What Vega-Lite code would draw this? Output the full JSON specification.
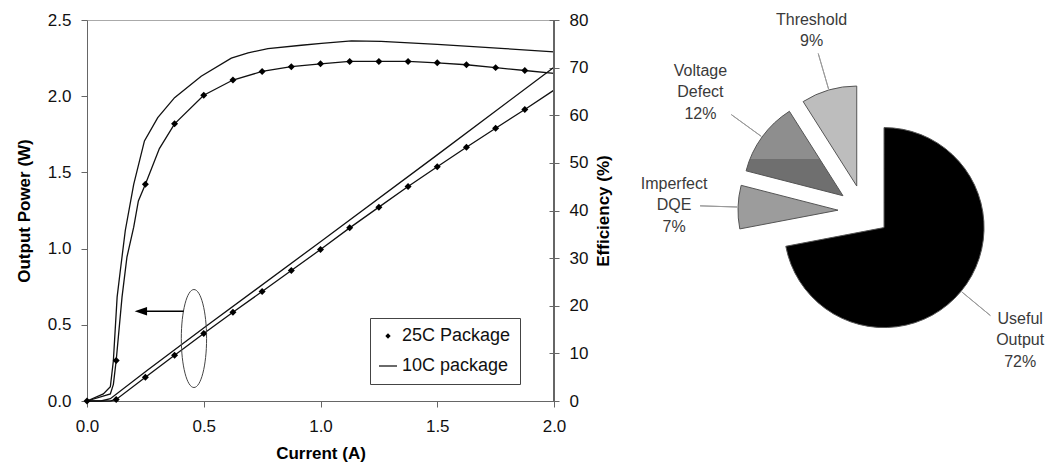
{
  "$schema": "https://vega.github.io/schema/vega-lite/v6.json",
  "padding": {"left": 14, "top": 10, "right": 0, "bottom": 0},
  "background": "white",
  "spacing": 127,
  "bounds": "flush",
  "config": {
    "font": "Liberation Sans",
    "view": {"stroke": "#aaaaaa", "strokeWidth": 1},
    "axis": {
      "grid": false,
      "domainColor": "#666666",
      "tickColor": "#666666",
      "labelColor": "#111111",
      "titleColor": "#000000",
      "labelFontSize": 17,
      "titleFontSize": 17,
      "titleFontWeight": "bold",
      "labelFont": "Liberation Sans",
      "titleFont": "Liberation Sans",
      "tickSize": 6,
      "labelPadding": 10,
      "labelFlush": false,
      "labelOverlap": false
    }
  },
  "datasets": {
    "pow": [
      {"s": "25C Package", "I": 0, "v": 0, "m": 0},
      {"s": "25C Package", "I": 0.1, "v": 0, "m": 0},
      {"s": "25C Package", "I": 0.125, "v": 0.01, "m": 1},
      {"s": "25C Package", "I": 0.25, "v": 0.156, "m": 1},
      {"s": "25C Package", "I": 0.375, "v": 0.3, "m": 1},
      {"s": "25C Package", "I": 0.5, "v": 0.443, "m": 1},
      {"s": "25C Package", "I": 0.625, "v": 0.583, "m": 1},
      {"s": "25C Package", "I": 0.75, "v": 0.718, "m": 1},
      {"s": "25C Package", "I": 0.875, "v": 0.856, "m": 1},
      {"s": "25C Package", "I": 1.0, "v": 0.994, "m": 1},
      {"s": "25C Package", "I": 1.125, "v": 1.136, "m": 1},
      {"s": "25C Package", "I": 1.25, "v": 1.272, "m": 1},
      {"s": "25C Package", "I": 1.375, "v": 1.407, "m": 1},
      {"s": "25C Package", "I": 1.5, "v": 1.537, "m": 1},
      {"s": "25C Package", "I": 1.625, "v": 1.665, "m": 1},
      {"s": "25C Package", "I": 1.75, "v": 1.79, "m": 1},
      {"s": "25C Package", "I": 1.875, "v": 1.913, "m": 1},
      {"s": "25C Package", "I": 2.0, "v": 2.04, "m": 0},
      {"s": "10C package", "I": 0, "v": 0, "m": 0},
      {"s": "10C package", "I": 0.06, "v": 0, "m": 0},
      {"s": "10C package", "I": 0.1, "v": 0.015, "m": 0},
      {"s": "10C package", "I": 0.257, "v": 0.2, "m": 0},
      {"s": "10C package", "I": 0.504, "v": 0.484, "m": 0},
      {"s": "10C package", "I": 1.0, "v": 1.045, "m": 0},
      {"s": "10C package", "I": 1.5, "v": 1.615, "m": 0},
      {"s": "10C package", "I": 2.0, "v": 2.19, "m": 0}
    ],
    "eff": [
      {"s": "25C Package", "I": 0, "v": 0, "m": 1},
      {"s": "25C Package", "I": 0.1, "v": 1.5, "m": 0},
      {"s": "25C Package", "I": 0.113, "v": 3.5, "m": 0},
      {"s": "25C Package", "I": 0.125, "v": 8.5, "m": 1},
      {"s": "25C Package", "I": 0.15, "v": 21.8, "m": 0},
      {"s": "25C Package", "I": 0.171, "v": 30.2, "m": 0},
      {"s": "25C Package", "I": 0.2, "v": 36.5, "m": 0},
      {"s": "25C Package", "I": 0.22, "v": 42, "m": 0},
      {"s": "25C Package", "I": 0.25, "v": 45.5, "m": 1},
      {"s": "25C Package", "I": 0.31, "v": 53, "m": 0},
      {"s": "25C Package", "I": 0.375, "v": 58.2, "m": 1},
      {"s": "25C Package", "I": 0.5, "v": 64.2, "m": 1},
      {"s": "25C Package", "I": 0.625, "v": 67.4, "m": 1},
      {"s": "25C Package", "I": 0.75, "v": 69.2, "m": 1},
      {"s": "25C Package", "I": 0.875, "v": 70.2, "m": 1},
      {"s": "25C Package", "I": 1.0, "v": 70.8, "m": 1},
      {"s": "25C Package", "I": 1.125, "v": 71.3, "m": 1},
      {"s": "25C Package", "I": 1.25, "v": 71.3, "m": 1},
      {"s": "25C Package", "I": 1.375, "v": 71.3, "m": 1},
      {"s": "25C Package", "I": 1.5, "v": 71.0, "m": 1},
      {"s": "25C Package", "I": 1.625, "v": 70.6, "m": 1},
      {"s": "25C Package", "I": 1.75, "v": 70.0, "m": 1},
      {"s": "25C Package", "I": 1.875, "v": 69.4, "m": 1},
      {"s": "25C Package", "I": 2.0, "v": 68.8, "m": 0},
      {"s": "10C package", "I": 0, "v": 0, "m": 0},
      {"s": "10C package", "I": 0.07, "v": 1.5, "m": 0},
      {"s": "10C package", "I": 0.1, "v": 3, "m": 0},
      {"s": "10C package", "I": 0.113, "v": 8.5, "m": 0},
      {"s": "10C package", "I": 0.129, "v": 21.8, "m": 0},
      {"s": "10C package", "I": 0.143, "v": 27.5, "m": 0},
      {"s": "10C package", "I": 0.164, "v": 35.8, "m": 0},
      {"s": "10C package", "I": 0.2, "v": 45.5, "m": 0},
      {"s": "10C package", "I": 0.246, "v": 54.6, "m": 0},
      {"s": "10C package", "I": 0.303, "v": 59.5, "m": 0},
      {"s": "10C package", "I": 0.375, "v": 63.7, "m": 0},
      {"s": "10C package", "I": 0.489, "v": 68.2, "m": 0},
      {"s": "10C package", "I": 0.618, "v": 72.0, "m": 0},
      {"s": "10C package", "I": 0.69, "v": 73.1, "m": 0},
      {"s": "10C package", "I": 0.775, "v": 74.0, "m": 0},
      {"s": "10C package", "I": 0.918, "v": 74.7, "m": 0},
      {"s": "10C package", "I": 1.004, "v": 75.1, "m": 0},
      {"s": "10C package", "I": 1.133, "v": 75.6, "m": 0},
      {"s": "10C package", "I": 1.26, "v": 75.5, "m": 0},
      {"s": "10C package", "I": 1.5, "v": 74.9, "m": 0},
      {"s": "10C package", "I": 1.62, "v": 74.5, "m": 0},
      {"s": "10C package", "I": 1.79, "v": 74.0, "m": 0},
      {"s": "10C package", "I": 2.0, "v": 73.3, "m": 0}
    ],
    "ell": [{"I": 0.458, "P": 0.41}],
    "arrow": [{"x1": 0.2306, "x2": 0.414, "y": 0.589}],
    "pie": [
      {"label": "Useful Output", "lbl": "Useful\nOutput\n72%", "pct": 72, "o": 1},
      {"label": "Imperfect DQE", "lbl": "Imperfect\nDQE\n7%", "pct": 7, "o": 2},
      {"label": "Voltage Defect", "lbl": "Voltage\nDefect\n12%", "pct": 12, "o": 3},
      {"label": "Threshold", "lbl": "Threshold\n9%", "pct": 9, "o": 4}
    ]
  },
  "hconcat": [
    {
      "width": 467,
      "height": 381,
      "layer": [
        {
          "layer": [
            {
              "data": {"name": "pow"},
              "mark": {"type": "line", "color": "#111111", "strokeWidth": 1.3},
              "encoding": {
                "x": {"field": "I", "type": "quantitative", "scale": {"domain": [0, 2], "nice": false},
                  "axis": {"values": [0, 0.5, 1, 1.5, 2], "format": ".1f", "title": "Current (A)", "labelPadding": 11, "titlePadding": 11}},
                "y": {"field": "v", "type": "quantitative", "scale": {"domain": [0, 2.5], "nice": false},
                  "axis": {"values": [0, 0.5, 1, 1.5, 2, 2.5], "format": ".1f", "title": "Output Power (W)", "titlePadding": 14}},
                "detail": {"field": "s"}
              }
            },
            {
              "data": {"name": "pow"},
              "transform": [{"filter": "datum.m == 1"}],
              "mark": {"type": "point", "filled": true, "color": "#000000", "opacity": 1, "size": 544, "shape": "M0,-0.3L0.3,0L0,0.3L-0.3,0Z"},
              "encoding": {
                "x": {"field": "I", "type": "quantitative"},
                "y": {"field": "v", "type": "quantitative"}
              }
            },
            {
              "data": {"name": "ell"},
              "mark": {"type": "point", "filled": false, "color": "#444444", "opacity": 1, "strokeWidth": 1, "size": 9604, "shape": "M0,-1A0.258,1 0 1,1 0,1A0.258,1 0 1,1 0,-1Z"},
              "encoding": {
                "x": {"field": "I", "type": "quantitative"},
                "y": {"field": "P", "type": "quantitative"}
              }
            },
            {
              "data": {"name": "arrow"},
              "mark": {"type": "rule", "color": "#000000", "strokeWidth": 1.6},
              "encoding": {
                "x": {"field": "x1", "type": "quantitative"},
                "x2": {"field": "x2"},
                "y": {"field": "y", "type": "quantitative"}
              }
            },
            {
              "data": {"name": "arrow"},
              "mark": {"type": "point", "filled": true, "color": "#000000", "opacity": 1, "size": 154, "shape": "M-1,0L1,-0.68L1,0.68Z"},
              "encoding": {
                "x": {"field": "x1", "type": "quantitative"},
                "y": {"field": "y", "type": "quantitative"}
              }
            }
          ]
        },
        {
          "layer": [
            {
              "data": {"name": "eff"},
              "mark": {"type": "line", "color": "#111111", "strokeWidth": 1.3},
              "encoding": {
                "x": {"field": "I", "type": "quantitative"},
                "y": {"field": "v", "type": "quantitative", "scale": {"domain": [0, 80], "nice": false},
                  "axis": {"orient": "right", "values": [0, 10, 20, 30, 40, 50, 60, 70, 80], "title": "Efficiency (%)", "titleAngle": 270, "titleBaseline": "top", "domain": false, "tickSize": 10, "offset": -5, "labelPadding": 10, "titlePadding": 8}},
                "detail": {"field": "s"}
              }
            },
            {
              "data": {"name": "eff"},
              "transform": [{"filter": "datum.m == 1"}],
              "mark": {"type": "point", "filled": true, "color": "#000000", "opacity": 1, "size": 544},
              "encoding": {
                "x": {"field": "I", "type": "quantitative"},
                "y": {"field": "v", "type": "quantitative"},
                "shape": {
                  "field": "s", "type": "nominal",
                  "scale": {"domain": ["25C Package", "10C package"], "range": ["M0,-0.3L0.3,0L0,0.3L-0.3,0Z", "M-1,-0.065L1,-0.065L1,0.065L-1,0.065Z"]},
                  "legend": {
                    "title": null, "orient": "none", "legendX": 283, "legendY": 298,
                    "strokeColor": "#444444", "fillColor": "white", "padding": 9,
                    "labelFontSize": 18, "labelColor": "#111111", "labelFont": "Liberation Sans",
                    "symbolSize": 324, "symbolFillColor": "#000000", "symbolStrokeWidth": 0,
                    "symbolOpacity": 1, "rowPadding": 12, "labelOffset": 5
                  }
                }
              }
            },
            {
              "data": {"name": "eff"},
              "mark": {"type": "rule", "color": "#666666", "strokeWidth": 1},
              "encoding": {"x": {"datum": 2, "type": "quantitative"}}
            }
          ]
        }
      ],
      "resolve": {"scale": {"y": "independent"}}
    },
    {
      "width": 366,
      "height": 382,
      "view": {"stroke": null},
      "data": {"name": "pie"},
      "layer": [
        {
          "mark": {"type": "arc", "outerRadius": 100, "stroke": "#555555", "strokeWidth": 1,
            "xOffset": {"expr": "26*sin(PI*(datum.pct_start+datum.pct_end)/100)"},
            "yOffset": {"expr": "-26*cos(PI*(datum.pct_start+datum.pct_end)/100)"}},
          "encoding": {
            "theta": {"field": "pct", "type": "quantitative", "stack": true},
            "order": {"field": "o", "type": "quantitative"},
            "color": {
              "condition": {"test": "datum.label === 'Voltage Defect'", "value": {"gradient": "linear", "x1": 0, "y1": 0, "x2": 0, "y2": 1, "stops": [{"offset": 0, "color": "#8e8e8e"}, {"offset": 0.56, "color": "#8e8e8e"}, {"offset": 0.56, "color": "#6f6f6f"}, {"offset": 1, "color": "#6f6f6f"}]}},
              "field": "label", "type": "nominal",
              "scale": {"domain": ["Useful Output", "Imperfect DQE", "Voltage Defect", "Threshold"], "range": ["#000000", "#9c9c9c", "#7d7d7d", "#bdbdbd"]},
              "legend": null
            }
          }
        },
        {
          "transform": [{"stack": "pct", "groupby": [], "sort": [{"field": "o", "order": "ascending"}], "as": ["a0", "a1"]}],
          "mark": {"type": "arc", "filled": false, "color": "#9a9a9a", "strokeWidth": 1, "radius": 138, "radius2": 101,
            "theta": {"expr": "PI*(datum.a0+datum.a1)/100"},
            "theta2": {"expr": "PI*(datum.a0+datum.a1)/100"},
            "xOffset": {"expr": "26*sin(PI*(datum.a0+datum.a1)/100)"},
            "yOffset": {"expr": "-26*cos(PI*(datum.a0+datum.a1)/100)"}}
        },
        {
          "mark": {"type": "text", "lineBreak": "\n", "fontSize": 16, "lineHeight": 21.5, "color": "#3a3a3a", "font": "Liberation Sans", "align": "center", "baseline": "middle",
            "radius": {"expr": "133 + abs(cos(PI*(datum.pct_start+datum.pct_end)/100))*length(split(datum.lbl, '\\n'))*10.75 + abs(sin(PI*(datum.pct_start+datum.pct_end)/100))*30"},
            "xOffset": {"expr": "26*sin(PI*(datum.pct_start+datum.pct_end)/100)"},
            "yOffset": {"expr": "-26*cos(PI*(datum.pct_start+datum.pct_end)/100) - (length(split(datum.lbl, '\\n'))-1)*10.75"}},
          "encoding": {
            "theta": {"field": "pct", "type": "quantitative", "stack": true},
            "order": {"field": "o", "type": "quantitative"},
            "text": {"field": "lbl"}
          }
        }
      ]
    }
  ]
}
